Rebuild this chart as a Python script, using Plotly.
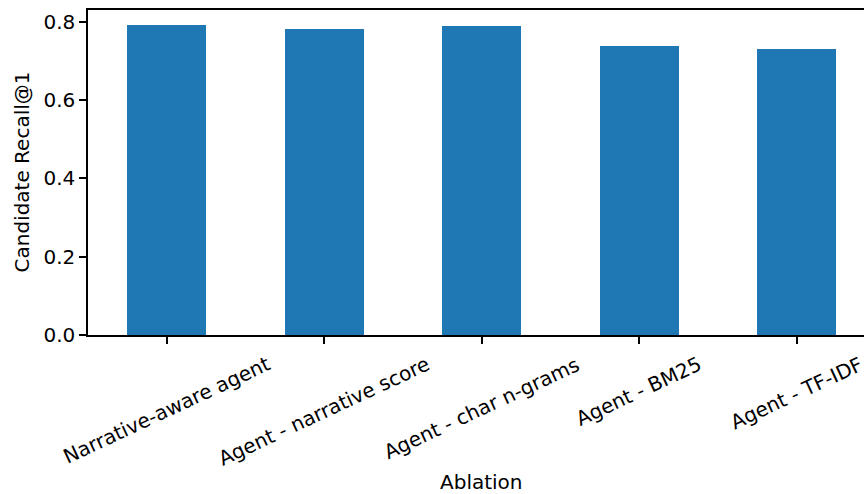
import plotly.graph_objects as go

categories = ["Narrative-aware agent", "Agent - narrative score", "Agent - char n-grams", "Agent - BM25", "Agent - TF-IDF"]
recall_at_1 = [0.790, 0.782, 0.789, 0.737, 0.729]
y_ticks = [0.0, 0.2, 0.4, 0.6, 0.8]
x_title = "Ablation"
y_title = "Candidate Recall@1"

FONT = "DejaVu Sans"
FS = 20
W, H = 864, 494
L, R, T = 88, 0, 10
plot_h = 325
B = H - T - plot_h
unit_px = 157.5
plot_w = W - L - R
x_max = -0.5 + plot_w / unit_px

xs = list(range(len(categories)))

fig = go.Figure()
fig.add_trace(go.Bar(x=xs, y=recall_at_1, width=0.5, marker=dict(color="#1f77b4", line=dict(width=0))))

annotations = []
for i, c in enumerate(categories):
    annotations.append(dict(x=i, y=0, xref="x", yref="paper", text=c, showarrow=False,
                            textangle=-25, xanchor="center", yanchor="top", yshift=-14,
                            font=dict(family=FONT, size=FS, color="black")))
annotations.append(dict(x=2, y=0, xref="x", yref="paper", text=x_title, showarrow=False,
                        xanchor="center", yanchor="middle", yshift=-(482 - 335),
                        font=dict(family=FONT, size=FS, color="black")))
annotations.append(dict(x=0, y=0.5, xref="paper", yref="paper", text=y_title, showarrow=False,
                        textangle=-90, xanchor="center", yanchor="middle", xshift=-(88 - 21),
                        font=dict(family=FONT, size=FS, color="black")))

fig.update_layout(
    width=W, height=H,
    margin=dict(l=L, r=R, t=T, b=B),
    paper_bgcolor="white", plot_bgcolor="white",
    showlegend=False,
    font=dict(family=FONT, size=FS, color="black"),
    annotations=annotations,
    bargap=0,
)
fig.update_xaxes(range=[-0.5, x_max], tickvals=xs, ticktext=[""] * len(xs),
                 showline=True, linecolor="black", linewidth=1.5, mirror=True,
                 ticks="outside", ticklen=7, tickwidth=1.5, tickcolor="black",
                 showgrid=False, zeroline=False, fixedrange=True)
fig.update_yaxes(range=[0, 0.79 * 1.05], tickvals=y_ticks, ticktext=[f"{v:.1f}" for v in y_ticks],
                 showline=True, linecolor="black", linewidth=1.5, mirror=False,
                 ticks="outside", ticklen=7, tickwidth=1.5, tickcolor="black",
                 showgrid=False, zeroline=False, fixedrange=True,
                 tickfont=dict(family=FONT, size=FS, color="black"))

fig.write_html("out.html", config={"displayModeBar": False},
               post_script="document.body.style.margin='0';")
